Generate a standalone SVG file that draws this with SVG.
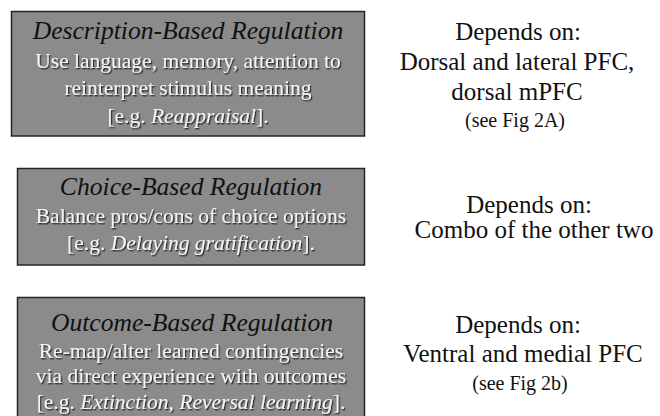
<svg xmlns="http://www.w3.org/2000/svg" width="660" height="416" viewBox="0 0 660 416">
  <defs>
    <filter id="shadow" x="-5%" y="-20%" width="110%" height="140%">
      <feDropShadow dx="1.2" dy="1.4" stdDeviation="0.5" flood-color="#1a1a1a" flood-opacity="0.9"/>
    </filter>
  </defs>
  <style>
    .box { fill: #8b8b8b; stroke: #262626; stroke-width: 1.5; }
    .title { font-family: "Liberation Serif", "Times New Roman", serif; font-style: italic; font-size: 25.6px; fill: #111; text-anchor: middle; }
    .body { font-family: "Liberation Serif", "Times New Roman", serif; font-size: 21.5px; fill: #f4f4f4; text-anchor: middle; filter: url(#shadow); }
    .dep { font-family: "Liberation Serif", "Times New Roman", serif; font-size: 25px; fill: #111; text-anchor: middle; }
    .see { font-family: "Liberation Serif", "Times New Roman", serif; font-size: 20px; fill: #111; text-anchor: middle; }
    .it { font-style: italic; }
  </style>
  <rect width="660" height="416" fill="#ffffff"/>

  <g id="description-based">
    <rect class="box" x="11.5" y="11.5" width="353" height="124.5"/>
    <text class="title" x="188" y="39">Description-Based Regulation</text>
    <text class="body" x="188" y="68">Use language, memory, attention to</text>
    <text class="body" x="188" y="95">reinterpret stimulus meaning</text>
    <text class="body" x="188" y="123">[e.g. <tspan class="it">Reappraisal</tspan>].</text>
  </g>

  <g id="choice-based">
    <rect class="box" x="17.5" y="168.5" width="347" height="96.5"/>
    <text class="title" x="191" y="195">Choice-Based Regulation</text>
    <text class="body" x="191" y="223">Balance pros/cons of choice options</text>
    <text class="body" x="191" y="250">[e.g. <tspan class="it">Delaying gratification</tspan>].</text>
  </g>

  <g id="outcome-based">
    <rect class="box" x="17.5" y="297.5" width="347" height="125"/>
    <text class="title" x="192" y="331">Outcome-Based Regulation</text>
    <text class="body" x="191" y="358">Re-map/alter learned contingencies</text>
    <text class="body" x="191" y="383">via direct experience with outcomes</text>
    <text class="body" x="191" y="409">[e.g. <tspan class="it">Extinction, Reversal learning</tspan>].</text>
  </g>

  <g id="depends-description">
    <text class="dep" x="518" y="40">Depends on:</text>
    <text class="dep" x="517" y="70">Dorsal and lateral PFC,</text>
    <text class="dep" x="517" y="100">dorsal mPFC</text>
    <text class="see" x="515" y="127">(see Fig 2A)</text>
  </g>

  <g id="depends-choice">
    <text class="dep" x="529" y="213">Depends on:</text>
    <text class="dep" x="534" y="238">Combo of the other two</text>
  </g>

  <g id="depends-outcome">
    <text class="dep" x="518" y="333">Depends on:</text>
    <text class="dep" x="523" y="362">Ventral and medial PFC</text>
    <text class="see" x="520" y="390">(see Fig 2b)</text>
  </g>
</svg>
